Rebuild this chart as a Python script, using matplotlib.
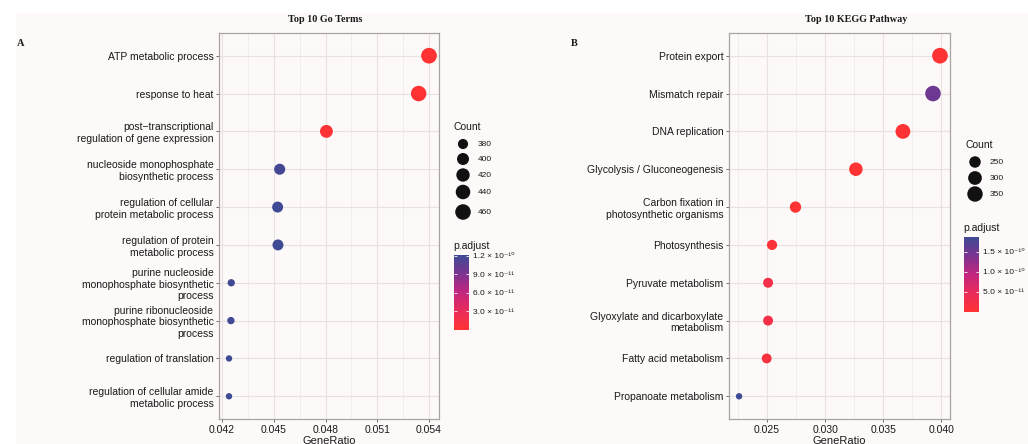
import numpy as np
import matplotlib
matplotlib.use("Agg")
import matplotlib.pyplot as plt
from matplotlib.colors import LinearSegmentedColormap, Normalize
from matplotlib.cm import ScalarMappable
from matplotlib.patches import Rectangle

plt.rcParams["font.family"] = ["Liberation Sans", "DejaVu Sans"]

# GO enrichment (top to bottom)
go_terms = [
    "ATP metabolic process",
    "response to heat",
    "post\u2212transcriptional\nregulation of gene expression",
    "nucleoside monophosphate\nbiosynthetic process",
    "regulation of cellular\nprotein metabolic process",
    "regulation of protein\nmetabolic process",
    "purine nucleoside\nmonophosphate biosynthetic\nprocess",
    "purine ribonucleoside\nmonophosphate biosynthetic\nprocess",
    "regulation of translation",
    "regulation of cellular amide\nmetabolic process",
]
go_ratio = [0.0540, 0.0534, 0.04805, 0.04534, 0.04522, 0.04524, 0.04253, 0.04251, 0.0424, 0.0424]
go_count = [463, 458, 412, 389, 388, 388, 365, 365, 364, 364]
go_padj = [1.0e-15, 3.0e-15, 1.5e-12, 1.18e-10, 1.21e-10, 1.21e-10, 1.19e-10, 1.19e-10, 1.21e-10, 1.21e-10]

# KEGG enrichment (top to bottom)
kegg_terms = [
    "Protein export",
    "Mismatch repair",
    "DNA replication",
    "Glycolysis / Gluconeogenesis",
    "Carbon fixation in\nphotosynthetic organisms",
    "Photosynthesis",
    "Pyruvate metabolism",
    "Glyoxylate and dicarboxylate\nmetabolism",
    "Fatty acid metabolism",
    "Propanoate metabolism",
]
kegg_ratio = [0.03989, 0.03929, 0.0367, 0.03265, 0.02745, 0.02543, 0.02509, 0.02509, 0.02497, 0.02259]
kegg_count = [359, 354, 330, 294, 247, 229, 226, 226, 225, 203]
kegg_padj = [1.0e-15, 1.5e-10, 2.0e-15, 3.0e-15, 1.0e-13, 6.0e-12, 2.4e-11, 2.4e-11, 1.6e-11, 1.86e-10]

go_size_breaks = [380, 400, 420, 440, 460]
kegg_size_breaks = [250, 300, 350]
go_cbar_ticks = [3e-11, 6e-11, 9e-11, 1.2e-10]
go_cbar_labels = ["3.0 \u00d7 10\u207b\u00b9\u00b9", "6.0 \u00d7 10\u207b\u00b9\u00b9",
                  "9.0 \u00d7 10\u207b\u00b9\u00b9", "1.2 \u00d7 10\u207b\u00b9\u2070"]
kegg_cbar_ticks = [5e-11, 1e-10, 1.5e-10]
kegg_cbar_labels = ["5.0 \u00d7 10\u207b\u00b9\u00b9", "1.0 \u00d7 10\u207b\u00b9\u2070",
                    "1.5 \u00d7 10\u207b\u00b9\u2070"]

W, H = 1028, 444
BG = "#fcf9f8"
TXT = "#1a1a1a"
cmap = LinearSegmentedColormap.from_list(
    "padj", [(0.0, "#ff3333"), (0.25, "#e92b5a"), (0.5, "#c2257f"),
             (0.75, "#7b3390"), (1.0, "#3e4a94")])

fig = plt.figure(figsize=(W / 100, H / 100), dpi=100, facecolor="white")
fig.patches.append(Rectangle((16 / W, 0), 1, 1 - 13 / H, transform=fig.transFigure,
                             facecolor=BG, edgecolor="none", zorder=-10))


def px_rect(x0, y0, x1, y1):
    return [x0 / W, 1 - y1 / H, (x1 - x0) / W, (y1 - y0) / H]


def diam(c, cmin, cmax):
    # diameter in points, area-scaled like ggplot's scale_size
    t = (np.asarray(c, float) - cmin) / (cmax - cmin)
    return 4.6 + (11.3 - 4.6) * np.sqrt(np.clip(t, 0, None))


def dotplot(rect, terms, ratio, count, padj, major, minor, fmt):
    ax = fig.add_axes(rect)
    ax.set_facecolor("none")
    n = len(terms)
    y = np.arange(n, 0, -1)
    cmin, cmax = min(count), max(count)
    norm = Normalize(min(padj), max(padj))
    ax.scatter(ratio, y, s=diam(count, cmin, cmax) ** 2, c=padj, cmap=cmap, norm=norm,
               edgecolors="none", zorder=3)
    lo, hi = min(ratio), max(ratio)
    pad = (hi - lo) * 0.05
    ax.set_xlim(lo - pad, hi + pad)
    ax.set_ylim(0.4, n + 0.6)
    ax.set_yticks(y)
    ax.set_yticklabels(terms, fontsize=7.5, color=TXT, linespacing=1.2)
    ax.set_xticks(major)
    ax.set_xticklabels([fmt % v for v in major], fontsize=7.5, color=TXT)
    ax.set_xticks(minor, minor=True)
    ax.grid(True, which="major", color="#e8e3e2", lw=0.8, zorder=0)
    ax.grid(True, which="minor", axis="x", color="#efebea", lw=0.6, zorder=0)
    ax.set_axisbelow(True)
    ax.tick_params(axis="both", which="major", length=2.5, width=0.6, color="#555555", pad=1.5)
    ax.tick_params(axis="x", which="minor", length=0)
    for s in ax.spines.values():
        s.set_color("#a8a4a3")
        s.set_linewidth(0.9)
    ax.set_xlabel("GeneRatio", fontsize=8, color=TXT, labelpad=1)
    return ax, norm, cmin, cmax


ax1, norm1, c1min, c1max = dotplot(px_rect(219, 33, 439, 419), go_terms, go_ratio, go_count, go_padj,
                                   [0.042, 0.045, 0.048, 0.051, 0.054],
                                   [0.0435, 0.0465, 0.0495, 0.0525], "%.3f")
ax2, norm2, c2min, c2max = dotplot(px_rect(729, 33, 950, 419), kegg_terms, kegg_ratio, kegg_count, kegg_padj,
                                   [0.025, 0.030, 0.035, 0.040],
                                   [0.0225, 0.0275, 0.0325, 0.0375], "%.3f")

# titles and panel letters
serif = ["Liberation Serif", "DejaVu Serif"]
fig.text(325 / W, 1 - 20 / H, "Top 10 Go Terms", family=serif, weight="bold", fontsize=7.3,
         ha="center", va="center", color=TXT)
fig.text(856 / W, 1 - 20 / H, "Top 10 KEGG Pathway", family=serif, weight="bold", fontsize=7.3,
         ha="center", va="center", color=TXT)
fig.text(17 / W, 1 - 44 / H, "A", family=serif, weight="bold", fontsize=7.5, ha="left", va="center", color=TXT)
fig.text(571 / W, 1 - 44 / H, "B", family=serif, weight="bold", fontsize=7.5, ha="left", va="center", color=TXT)

# overlay in pixel units for the legends
lax = fig.add_axes([0, 0, 1, 1])
lax.set_xlim(0, W)
lax.set_ylim(H, 0)
lax.axis("off")


def size_legend(x, y_title, ys, breaks, cmin, cmax):
    lax.text(x, y_title, "Count", fontsize=7.5, ha="left", va="center", color=TXT)
    lax.scatter([x + 10] * len(breaks), ys, s=diam(breaks, cmin, cmax) ** 2, color="#111111",
                edgecolors="none")
    for yy, b in zip(ys, breaks):
        lax.text(x + 25, yy, str(b), fontsize=6, ha="left", va="center", color=TXT)


def color_legend(x0, y_title, y0, y1, norm, ticks, labels):
    lax.text(x0 - 1, y_title, "p.adjust", fontsize=7.5, ha="left", va="center", color=TXT)
    cax = fig.add_axes(px_rect(x0, y0, x0 + 15, y1))
    cb = fig.colorbar(ScalarMappable(norm=norm, cmap=cmap), cax=cax)
    cb.outline.set_visible(False)
    cb.set_ticks(ticks)
    cb.set_ticklabels(labels)
    cax.tick_params(axis="y", direction="in", length=2.5, width=0.6, color="white",
                    labelcolor=TXT, labelsize=6, left=True, right=True, pad=3)


size_legend(453, 127, [144, 159, 175, 192, 212], go_size_breaks, c1min, c1max)
color_legend(454, 246, 255, 330, norm1, go_cbar_ticks, go_cbar_labels)
size_legend(965, 145, [162, 178, 194], kegg_size_breaks, c2min, c2max)
color_legend(964, 228, 237, 312, norm2, kegg_cbar_ticks, kegg_cbar_labels)

fig.savefig("out.png", dpi=100, facecolor="white")
